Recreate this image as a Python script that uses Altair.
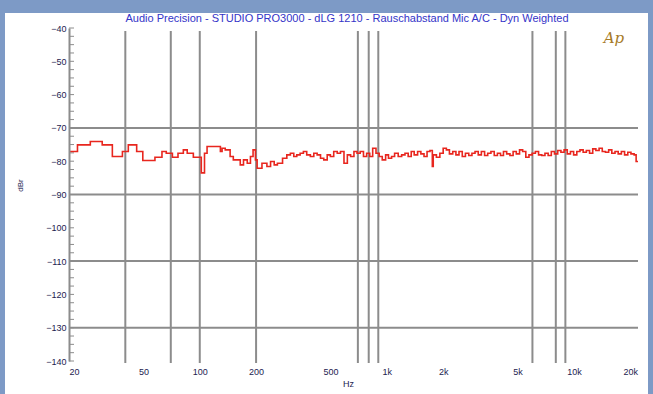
import altair as alt
import pandas as pd

# ---- data ----
freq_low = [20, 22.2, 26, 30.1, 34.1, 38.6, 41.5, 46, 49.6, 57.6, 62.8, 66.2, 71.4, 76.5,
            81.7, 85.7, 92.4, 101.9, 106, 109.4, 128.9, 131.6, 136.8, 145.3, 151.1, 164.6,
            171.3, 179.4, 186.6, 192.7, 198.4, 202.6, 215, 228.5, 239, 250, 260, 277, 292,
            305, 318, 330, 344, 358, 373, 390, 407, 424, 442, 460, 480, 499, 520, 543, 565,
            590, 615, 640, 667, 693]
level_low = [-77.1, -75.1, -74.1, -75.1, -78.6, -77.1, -75.1, -77.1, -79.8, -78.8, -77.1,
             -77.6, -78.8, -77.6, -76.6, -77.6, -78.8, -83.5, -77.6, -75.6, -77.1, -76.1,
             -76.6, -78.6, -79.6, -81.1, -79.6, -80.6, -78.6, -76.6, -79.6, -82.1, -80.6,
             -81.6, -80.1, -81.1, -80.6, -79.1, -78.1, -77.6, -78.6, -78.1, -77.6, -77.1,
             -78.1, -78.6, -77.6, -78.1, -79.1, -79.6, -78.1, -78.6, -77.1, -77.6, -77.1,
             -80.6, -78.1, -78.6, -77.1, -77.6]
freq_high = [720, 750, 780, 810, 840, 875, 910, 945, 985, 1020, 1060, 1100, 1150, 1200, 1250,
             1300, 1350, 1400, 1460, 1520, 1580, 1640, 1700, 1750, 1770, 1840, 1920, 2000,
             2080, 2160, 2250, 2340, 2430, 2530, 2630, 2740, 2850, 2960, 3080, 3200, 3330,
             3460, 3600, 3750, 3900, 4050, 4200, 4370, 4550, 4730, 4920, 5120, 5320, 5530,
             5750, 5980, 6220, 6470, 6730, 7000, 7280, 7570, 7870, 8190, 8520, 8860, 9210,
             9580, 9960, 10360, 10770, 11200, 11650, 12120, 12600, 13100, 13630, 14170,
             14740, 15330, 15940, 16580, 17240, 17930, 18650, 19400, 20170, 20980, 21500,
             22000]
level_high = [-77.1, -78.6, -77.6, -78.6, -76.1, -77.6, -78.6, -79.6, -78.1, -79.1, -78.6,
              -77.6, -78.6, -78.1, -77.6, -78.6, -77.1, -78.1, -77.1, -77.8, -78.6, -77.1,
              -76.8, -81.6, -78.1, -78.8, -77.6, -76.1, -76.6, -77.8, -77.1, -78.1, -77.1,
              -78.6, -77.6, -78.3, -77.6, -77.1, -78.1, -77.1, -78.3, -77.6, -77.1, -78.3,
              -77.6, -78.3, -77.1, -77.8, -78.3, -77.1, -77.8, -76.6, -77.1, -78.8, -78.1,
              -77.6, -77.1, -78.1, -78.3, -77.6, -78.3, -77.1, -77.8, -76.8, -77.3, -76.6,
              -77.8, -77.1, -78.1, -77.1, -76.6, -77.3, -76.8, -77.6, -76.3, -76.8, -76.1,
              -77.1, -77.3, -76.6, -77.6, -77.1, -77.8, -77.1, -78.1, -77.3, -77.8, -78.1,
              -80.1, -80.1]

grid_freqs = [40, 70, 100, 200, 700, 800, 900, 6000, 8000, 9000]
grid_levels = [-70, -90, -110, -130]
x_label_values = [20, 50, 100, 200, 500, 1000, 2000, 5000, 10000, 20000]
y_label_values = [-40, -50, -60, -70, -80, -90, -100, -110, -120, -130, -140]
y_minor_ticks = [-40, -42.5, -45, -47.5, -50, -52.5, -55, -57.5, -60, -62.5, -65, -67.5,
                 -70, -72.5, -75, -77.5, -80, -82.5, -85, -87.5, -90, -92.5, -95, -97.5,
                 -100, -102.5, -105, -107.5, -110, -112.5, -115, -117.5, -120, -122.5,
                 -125, -127.5, -130, -132.5, -135, -137.5, -140]

title_text = "Audio Precision - STUDIO PRO3000 - dLG 1210 - Rauschabstand Mic A/C - Dyn Weighted"

W, H = 569, 333
FONT = "Liberation Sans"
LABEL_COLOR = "#1c1c50"
GRID = "#8c8c8c"

curve = pd.DataFrame({"f": freq_low + freq_high, "v": level_low + level_high})
gx = pd.DataFrame({"f": grid_freqs})
gy = pd.DataFrame({"v": grid_levels})
ticks = pd.DataFrame({"v": y_minor_ticks})
one = pd.DataFrame({"a": [0]})

xscale = alt.Scale(type="log", domain=[20, 22000], nice=False)
yscale = alt.Scale(domain=[-140, -40], nice=False, zero=False)

xaxis = alt.Axis(values=x_label_values, domain=False, ticks=False, grid=False, zindex=2,
                 labelExpr="datum.value >= 1000 ? format(datum.value/1000, 'd') + 'k' : format(datum.value, 'd')",
                 labelFont=FONT, labelFontSize=9, labelColor=LABEL_COLOR, labelPadding=6,
                 labelFlush=True, title="Hz", titleFont=FONT, titleFontSize=9,
                 titleFontWeight="normal", titleColor=LABEL_COLOR, titleX=279, titleY=22,
                 titleBaseline="middle")
yaxis = alt.Axis(values=y_label_values, domain=True, domainColor=GRID, domainWidth=2,
                 ticks=False, grid=False, zindex=2, labelFont=FONT, labelFontSize=9,
                 labelColor=LABEL_COLOR, labelPadding=3,
                 title="dBr", titleFont=FONT, titleFontSize=8, titleFontWeight="normal",
                 titleColor=LABEL_COLOR, titleAngle=270, titleX=-49, titleY=157,
                 titleBaseline="middle")

panel = alt.Chart(one).mark_rect(color="white").encode(
    x=alt.value(-64), x2=alt.value(579), y=alt.value(-15), y2=alt.value(370))

title = alt.Chart(one).mark_text(text=title_text, font=FONT, fontSize=11,
                                 color="#3434c8", align="center", baseline="middle").encode(
    x=alt.value(278), y=alt.value(-9))

vgrid = alt.Chart(gx).mark_rule(color=GRID, strokeWidth=2).encode(
    x=alt.X("f:Q", scale=xscale, axis=xaxis), y=alt.value(3), y2=alt.value(H + 2))

hgrid = alt.Chart(gy).mark_rule(color=GRID, strokeWidth=2).encode(
    y=alt.Y("v:Q", scale=yscale, axis=yaxis), x=alt.value(0), x2=alt.value(W))

minor = alt.Chart(ticks).mark_rule(color=GRID, strokeWidth=1).encode(
    y=alt.Y("v:Q", scale=yscale, axis=yaxis), x=alt.value(0), x2=alt.value(5))

line = alt.Chart(curve).mark_line(color="#e8261e", strokeWidth=1.6,
                                  interpolate="step-after").encode(
    x=alt.X("f:Q", scale=xscale, axis=xaxis),
    y=alt.Y("v:Q", scale=yscale, axis=yaxis))

logo = alt.Chart(one).mark_text(text="Ap", font="DejaVu Serif", fontSize=15,
                                fontStyle="italic", color="#a77b27").encode(
    x=alt.value(545), y=alt.value(10))

chart = alt.layer(panel, title, vgrid, hgrid, minor, line, logo).properties(
    width=W, height=H,
    autosize=alt.AutoSizeParams(type="none"),
    padding={"left": 69, "top": 28, "right": 15, "bottom": 33},
    background="#7d9ac6",
).configure_view(strokeWidth=0)

chart.save("out.html", embed_options={"renderer": "svg", "actions": False})
